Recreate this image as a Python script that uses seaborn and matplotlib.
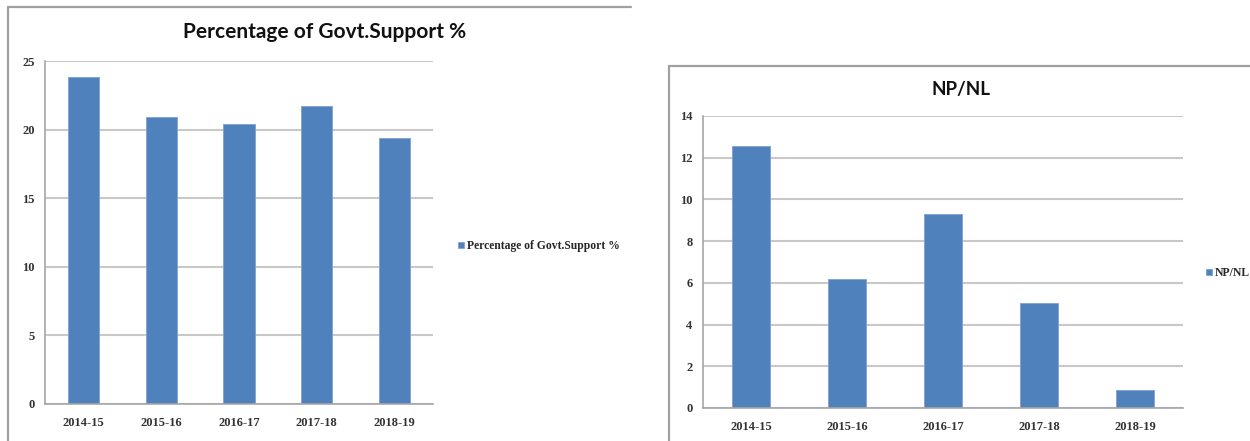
import matplotlib
matplotlib.use("Agg")
import matplotlib.pyplot as plt
import seaborn as sns
import pandas as pd
from matplotlib.lines import Line2D

years = ["2014-15", "2015-16", "2016-17", "2017-18", "2018-19"]
govt_support = [23.8, 20.9, 20.4, 21.7, 19.4]
np_nl = [12.55, 6.2, 9.3, 5.05, 0.87]
left_title = "Percentage of Govt.Support %"
right_title = "NP/NL"
left_yticks = [0, 5, 10, 15, 20, 25]
right_yticks = [0, 2, 4, 6, 8, 10, 12, 14]

sns.set_theme(style="white")
BAR = "#4F81BD"
GRID = "#C8C8C8"
AXIS = "#A6A6A6"
TICKFONT = dict(family="Liberation Serif", weight="bold", size=9)
LEGFONT = dict(family="Liberation Serif", weight="bold", size=8.4)

W, H = 1250, 441
fig = plt.figure(figsize=(12.5, 4.41), dpi=100)
fig.patch.set_facecolor("white")


def fx(px):
    return px / W


def fy(py):
    return 1 - py / H


def frame(x0, y0, x1):
    fig.add_artist(Line2D([fx(x0), fx(x0)], [fy(y0), 0], transform=fig.transFigure,
                          color="#A0A0A0", lw=1.6))
    fig.add_artist(Line2D([fx(x0), fx(x1)], [fy(y0), fy(y0)], transform=fig.transFigure,
                          color="#A0A0A0", lw=1.6))


def panel(rect, values, label, yticks, ymax):
    x0, ytop, x1, ybot = rect
    ax = fig.add_axes([fx(x0), fy(ybot), fx(x1 - x0), (ybot - ytop) / H])
    df = pd.DataFrame({"year": years, "value": values})
    sns.barplot(data=df, x="year", y="value", color=BAR, width=0.4, ax=ax,
                label=label, saturation=1, edgecolor="#7FA3D1", linewidth=0.6)
    ax.set_xlim(-0.5, len(years) - 0.5)
    ax.set_ylim(0, ymax)
    ax.set_yticks(yticks)
    ax.set_yticklabels([str(t) for t in yticks], fontdict=TICKFONT, color="#333333")
    ax.set_xticks(range(len(years)))
    ax.set_xticklabels(years, fontdict=TICKFONT, color="#333333")
    ax.set_xticks([i - 0.5 for i in range(len(years) + 1)], minor=True)
    ax.tick_params(axis="x", which="major", length=0, pad=9)
    ax.tick_params(axis="x", which="minor", length=3.5, color=AXIS, width=1, direction="out")
    ax.tick_params(axis="y", which="major", length=3.5, color=AXIS, width=1, direction="out", pad=4)
    ax.set_xlabel("")
    ax.set_ylabel("")
    ax.yaxis.grid(True, color=GRID, lw=1.5)
    ax.set_axisbelow(True)
    for s in ["top", "right"]:
        ax.spines[s].set_visible(False)
    for s in ["left", "bottom"]:
        ax.spines[s].set_color(AXIS)
        ax.spines[s].set_linewidth(1.2)
    if ax.get_legend() is not None:
        ax.get_legend().remove()
    return ax


# Left panel
frame(8, 7, 631)
axL = panel((45, 61, 433, 404), govt_support, left_title, left_yticks, 25)
fig.text(fx(325), fy(32), left_title, ha="center", va="center",
         fontsize=15, fontweight="bold", family="Lato", color="#111111")
hL, lL = axL.get_legend_handles_labels()
fig.legend(hL, lL, loc="center left", bbox_to_anchor=(fx(452), fy(246)),
           frameon=False, prop=LEGFONT,
           handlelength=0.5, handleheight=0.5, handletextpad=0.25, borderpad=0)

# Right panel
frame(669, 66, 1252)
axR = panel((703, 116, 1183, 408), np_nl, right_title, right_yticks, 14)
fig.text(fx(961), fy(90), right_title, ha="center", va="center",
         fontsize=13.5, fontweight="bold", family="Lato", color="#111111")
hR, lR = axR.get_legend_handles_labels()
fig.legend(hR, lR, loc="center left", bbox_to_anchor=(fx(1200), fy(273)),
           frameon=False, prop=LEGFONT,
           handlelength=0.5, handleheight=0.5, handletextpad=0.25, borderpad=0)

fig.savefig("out.png", dpi=100, facecolor="white")
